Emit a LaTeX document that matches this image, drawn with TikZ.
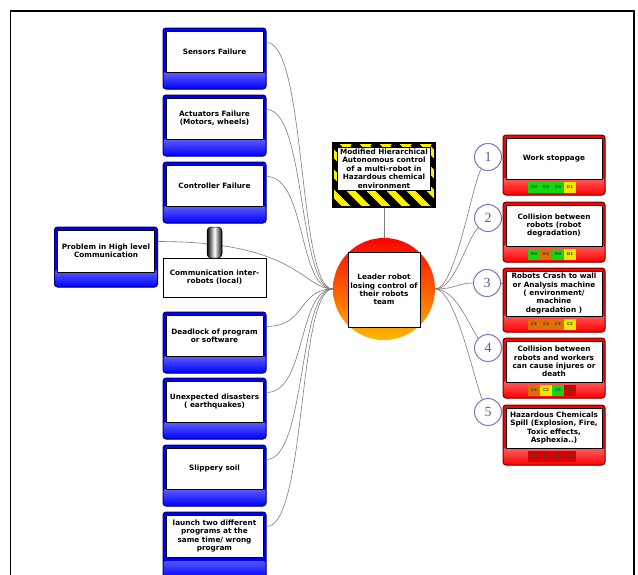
\documentclass[tikz,border=0pt]{standalone}
\usepackage{fontspec}
\setmainfont{DejaVu Sans}
\newfontfamily\numfont{Liberation Serif}
\definecolor{chipG}{RGB}{20,215,20}
\definecolor{chipY}{RGB}{245,230,0}
\definecolor{chipO}{RGB}{225,110,0}
\definecolor{chipR}{RGB}{215,0,0}
\definecolor{numC}{RGB}{140,110,185}
\definecolor{numT}{RGB}{100,85,130}
\definecolor{lineC}{RGB}{125,125,125}
\newcommand\mkblue[6]{%
  \node[bluebox, minimum height=#4pt] (#1) at (#2,#3+#4/2) {};
  \node[innerw, minimum width=97pt, minimum height=#5pt] (#1t) at (#2,#3+3+#5/2) {#6};
}
\newcommand\mkred[5]{%
  \node[redbox, minimum height=#3pt-#2pt] (#1) at (554,#2/2+#3/2) {};
  \node[innerw, minimum width=96pt, minimum height=#4pt-#2pt-3pt] (#1t) at (554,#2/2+#4/2+1.5) {#5};
}
\begin{document}
\begin{tikzpicture}[x=1pt,y=-1pt,
  txt/.style={font=\fontsize{7.3}{8.4}\selectfont\bfseries, align=center},
  innerw/.style={draw=black, line width=0.6pt, fill=white, inner sep=0pt, txt},
  bluebox/.style={draw=blue!40!black, line width=1pt, rounded corners=3pt, fill=blue, inner sep=0pt, minimum width=103pt,
    path picture={\shade[top color=blue!80, bottom color=blue, middle color=blue!35] ([yshift=17pt]path picture bounding box.south west) rectangle (path picture bounding box.south east);}},
  redbox/.style={draw=red!45!black, line width=1pt, rounded corners=3pt, fill=red, inner sep=0pt, minimum width=102pt,
    path picture={\shade[top color=red!85, bottom color=red, middle color=red!35!white] ([yshift=17pt]path picture bounding box.south west) rectangle (path picture bounding box.south east);}},
  chip/.style={minimum width=12pt, minimum height=11pt, inner sep=0pt, font=\fontsize{4}{4}\selectfont\bfseries, text=black!75},
  numc/.style={circle, draw=numC, line width=1pt, fill=white, minimum size=27pt, inner sep=0pt, font=\numfont\fontsize{14}{14}\selectfont, text=numT},
  conn/.style={draw=lineC, line width=0.6pt},
]
\clip (0,0) rectangle (638,574);
\fill[white] (0,0) rectangle (638,574);
% outer frame
\draw[line width=1.3pt] (10.5,11) rectangle (634,600);

% left blue boxes
\mkblue{b1}{214.5}{28}{61}{41}{Sensors Failure}
\mkblue{b2}{214.5}{95}{61}{41}{Actuators Failure\\ (Motors, wheels)}
\mkblue{b3}{214.5}{162}{61}{41}{Controller Failure}
\mkblue{b4}{214.5}{312}{61}{41}{Deadlock of program\\or software}
\mkblue{b5}{214.5}{378}{61}{41}{Unexpected disasters\\( earthquakes)}
\mkblue{b6}{214.5}{445}{61}{41}{Slippery soil}
\mkblue{b7}{214.5}{512}{66}{42}{launch two different\\programs at the\\same time/ wrong\\program}
\mkblue{prob}{106}{227}{60}{42}{Problem in High level\\Communication}

% communication inter-robots
\node[innerw, line width=0.8pt, minimum width=103pt, minimum height=39pt] (comm) at (214.5,277.5) {Communication inter-\\robots (local)};

% hazard box
\node[draw=black, line width=1.3pt, fill=yellow, minimum width=102pt, minimum height=64pt, inner sep=0pt,
  path picture={\foreach \i in {-4,...,7}{\draw[black, line width=7.5pt] ([xshift=\i*20pt]path picture bounding box.north west) -- ++(70,70);}}] (haz) at (384,175) {};
\node[innerw, minimum width=93pt, minimum height=43pt] (hazt) at (384,168.5) {Modified Hierarchical\\Autonomous control\\of a multi-robot in\\Hazardous chemical\\environment};

% hub
\node[circle, minimum size=102pt, inner sep=0pt, top color=red, bottom color=orange!55!yellow] (hub) at (384,289) {};
\node[innerw, line width=0.8pt, minimum width=72pt, minimum height=75pt] (hubt) at (384,289.5) {Leader robot\\losing control of\\their robots\\team};

% right red boxes
\mkred{r1}{135}{195}{179}{Work stoppage}
\mkred{r2}{202}{262}{246}{Collision between\\robots (robot\\degradation)}
\mkred{r3}{268}{332}{316}{Robots Crash to wall\\or Analysis machine\\( environment/\\machine\\degradation )}
\mkred{r4}{338}{398}{382}{Collision between\\robots and workers\\can cause injures or\\death}
\mkred{r5}{405}{465}{448}{Hazardous Chemicals\\Spill (Explosion, Fire,\\Toxic effects,\\Asphexia..)}

% chips
\foreach \nm/\cy/\la/\ca/\lb/\cb/\lc/\cc/\ld/\cd in {
  r1/187/D0/chipG/D0/chipG/D0/chipG/D1/chipY,
  r2/254/D0/chipG/D2/chipO/D0/chipG/D1/chipY,
  r3/324/C3/chipO/C4/chipO/C3/chipO/C2/chipY,
  r4/390/C4/chipO/C2/chipY/C0/chipG/C5/chipR,
  r5/456/C5/chipR/C5/chipR/C5/chipR/C5/chipR}{
  \node[chip, fill=\ca] (\nm-a) at (534,\cy) {\la};
  \node[chip, fill=\cb] (\nm-b) at (546,\cy) {\lb};
  \node[chip, fill=\cc] (\nm-c) at (558,\cy) {\lc};
  \node[chip, fill=\cd] (\nm-d) at (570,\cy) {\ld};
}

% number circles
\node[numc] (n1) at (488,157) {1};
\node[numc] (n2) at (488,218) {2};
\node[numc] (n3) at (487,283) {3};
\node[numc] (n4) at (488,348) {4};
\node[numc] (n5) at (488,412) {5};

% connectors
\foreach \b in {b1,b2,b3,b4,b5,b6,b7}
  \draw[conn] ([yshift=-15pt]\b.north east) .. controls +(40,0) and +(-35,0) .. (hub.west);
\draw[conn] ([yshift=-15pt]prob.north east) .. controls +(140,0) and +(-30,0) .. (hub.west);
\draw[conn] (haz.south) -- (hub.north);
\draw[conn] (hub.east) .. controls +(20,0) and +(-10,20) .. (n1.240);
\draw[conn] (hub.east) .. controls +(20,0) and +(-12,12) .. (n2.225);
\draw[conn] (hub.east) .. controls +(20,0) and +(-15,0) .. (n3.west);
\draw[conn] (hub.east) .. controls +(20,0) and +(-10,-15) .. (n4.135);
\draw[conn] (hub.east) .. controls +(20,0) and +(-8,-20) .. (n5.115);
\foreach \k in {1,...,5}
  \draw[conn] (n\k.east) -- (n\k.east -| r\k.west);

% cylinder joint
\node[draw=black, line width=0.5pt, minimum width=15pt, minimum height=31pt, inner sep=0pt, rounded corners=4pt,
  left color=black, right color=black, middle color=white] (cyl) at (214.5,242.5) {};
\end{tikzpicture}
\end{document}
